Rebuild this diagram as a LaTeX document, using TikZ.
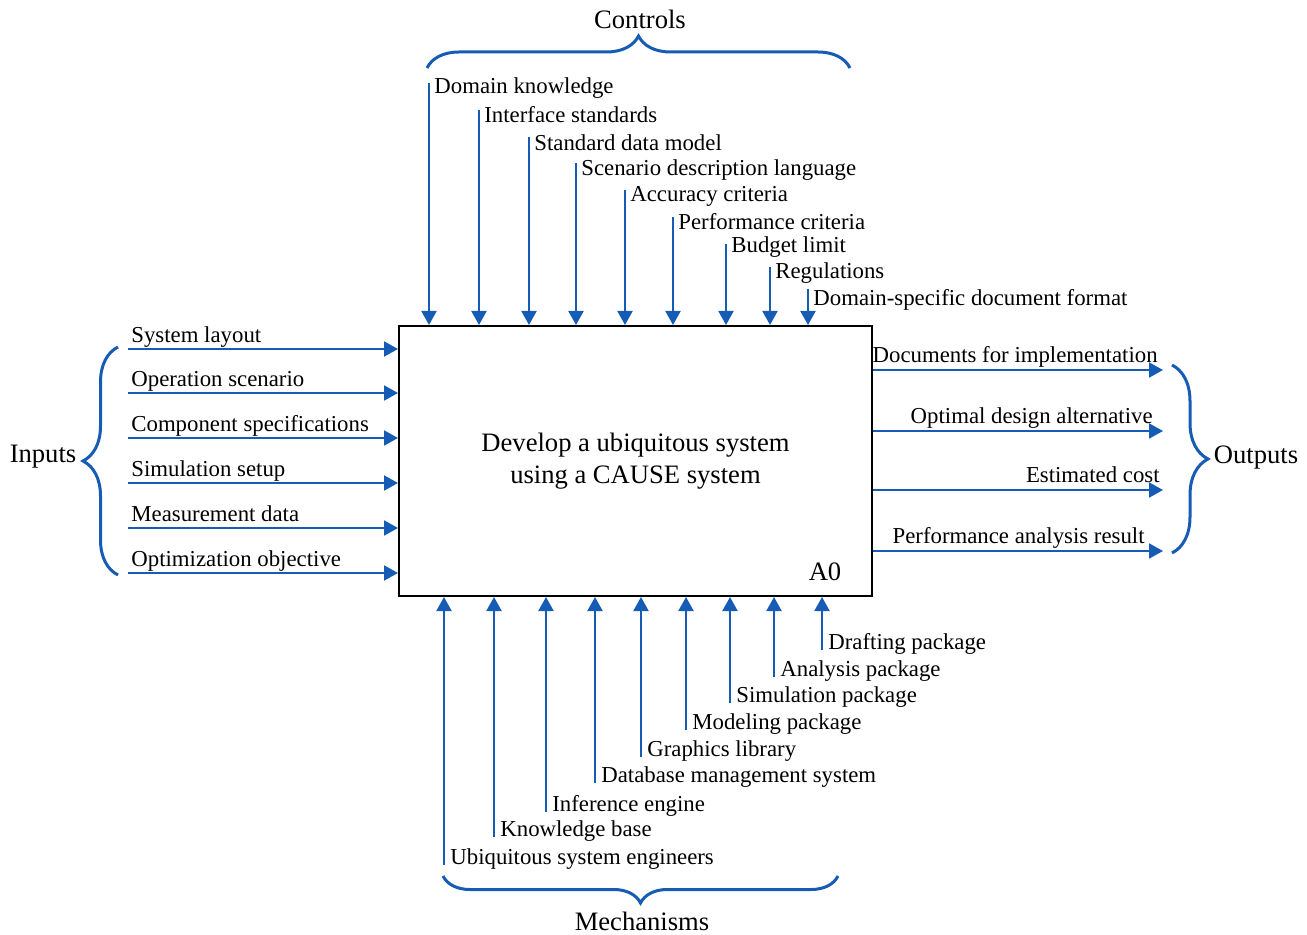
\documentclass[tikz,border=0pt]{standalone}
\usepackage{fontspec}
\setmainfont{Liberation Serif}
\usetikzlibrary{arrows.meta,decorations.pathreplacing,positioning}
\definecolor{idefblue}{RGB}{22,92,180}

\begin{document}
\begin{tikzpicture}[x=0.5pt,y=-0.5pt,
  every node/.style={font=\fontsize{11.4}{13}\selectfont, inner sep=1pt},
  flow/.style={draw=idefblue, line width=1pt, -{Triangle[length=7pt,width=7.5pt]}},
  bracket/.style={draw=idefblue, line width=1.5pt, decorate, decoration={brace,amplitude=#1}},
  heading/.style={font=\fontsize{13.3}{16}\selectfont}]
  \useasboundingbox (0,0) rectangle (1307,935);
  % activity box
  \node[draw, line width=1pt, minimum width=236.5pt, minimum height=135pt,
    heading, align=center] (box) at (635.5,461)
    {Develop a ubiquitous system\\using a CAUSE system};
  \node[heading] (a0) at (825,572) {A0};
  % controls
  \foreach \x/\y/\l/\t [count=\i] in {429/83/88/Domain knowledge, 479/110/115/Interface standards,
      529/137/143/Standard data model, 576/163/170/Scenario description language,
      625/190/196/Accuracy criteria, 673/217/222/Performance criteria, 726/244/247/Budget limit,
      770/267/273/Regulations, 808/289/300/Domain-specific document format} {
    \coordinate (c\i) at (\x,\y);
    \draw[flow] (c\i) -- (c\i |- box.north);
    \node[anchor=west] (cl\i) at (\x+3,\l) {\t};
  }
  % inputs
  \foreach \y/\t [count=\i] in {349/System layout, 393/Operation scenario,
      438/Component specifications, 483/Simulation setup,
      528/Measurement data, 573/Optimization objective} {
    \coordinate (in\i) at (128,\y);
    \draw[flow] (in\i) -- (in\i -| box.west);
    \node[anchor=base west] (il\i) at (129,\y-6) {\t};
  }
  % outputs
  \foreach \y/\e/\t [count=\i] in {370/1160/Documents for implementation,
      431/1155/Optimal design alternative, 490/1162/Estimated cost,
      551/1147/Performance analysis result} {
    \coordinate (out\i) at (1163,\y);
    \draw[flow] (out\i -| box.east) -- (out\i);
    \node[anchor=base east] (ol\i) at (\e,\y-7) {\t};
  }
  % mechanisms
  \foreach \x/\y/\t [count=\i] in {444/865/Ubiquitous system engineers,
      494/837/Knowledge base, 546/812/Inference engine,
      595/783/Database management system, 641/757/Graphics library,
      686/730/Modeling package, 730/703/Simulation package,
      774/677/Analysis package, 822/650/Drafting package} {
    \coordinate (m\i) at (\x,\y);
    \draw[flow] (m\i) -- (m\i |- box.south);
    \node[anchor=base west] (ml\i) at (\x+4,\y-1) {\t};
  }
  % braces
  \draw[bracket=16pt] (427,68) -- (850,68);
  \node[heading] (controls) at (640,19) {Controls};
  \draw[bracket=17.5pt] (118,575) -- (118,347);
  \node[heading] (inputs) at (43,457) {Inputs};
  \draw[bracket=18pt] (1172,365) -- (1172,553);
  \node[heading] (outputs) at (1256,458) {Outputs};
  \draw[bracket=13.5pt] (838,876) -- (443,876);
  \node[heading] (mechanisms) at (642,921) {Mechanisms};
\end{tikzpicture}
\end{document}
